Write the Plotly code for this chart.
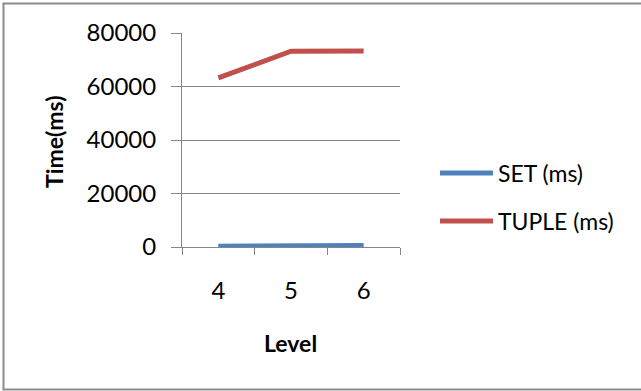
import plotly.graph_objects as go

levels = ["4", "5", "6"]
set_ms = [250, 400, 600]
tuple_ms = [63200, 73200, 73300]
y_ticks = [0, 20000, 40000, 60000, 80000]

series = [
    ("SET (ms)", set_ms, "#4F81BD"),
    ("TUPLE (ms)", tuple_ms, "#C0504D"),
]

FONT = "Lato, 'Open Sans', sans-serif"
GRID = "#868686"

fig = go.Figure()
for name, vals, color in series:
    fig.add_trace(go.Scatter(x=levels, y=vals, mode="lines", name=name,
                             line=dict(color=color, width=5)))

# plot area: x 182..400 px, y 33..247 px
L, R, T, B = 182, 400, 33, 247
W, H = 641, 391

def px_x(p):
    return (p - L) / (R - L)

def px_y(p):
    return (B - p) / (B - T)

fig.update_layout(
    width=W, height=H,
    margin=dict(l=L, r=W - R, t=T, b=H - B),
    paper_bgcolor="white", plot_bgcolor="white",
    font=dict(family=FONT, size=24, color="#000000"),
    showlegend=False,
    xaxis=dict(
        type="category", tickson="boundaries", ticks="outside", ticklen=7,
        tickcolor=GRID, showline=True, linecolor=GRID, linewidth=1,
        showgrid=False, tickfont=dict(size=24), ticklabelstandoff=22,
        range=[-0.5, 2.5],
    ),
    yaxis=dict(
        range=[0, 80000], tickvals=y_ticks, ticktext=[str(v) for v in y_ticks],
        ticks="outside", ticklen=10, tickcolor=GRID,
        showline=True, linecolor=GRID, linewidth=1,
        showgrid=True, gridcolor=GRID, gridwidth=1, zeroline=False,
        tickfont=dict(size=24), ticklabelstandoff=10,
    ),
)

# axis titles
fig.add_annotation(text="<b>Time(ms)</b>", xref="paper", yref="paper",
                   x=px_x(54), y=px_y(142), textangle=-90, showarrow=False,
                   font=dict(size=23), xanchor="center", yanchor="middle")
fig.add_annotation(text="<b>Level</b>", xref="paper", yref="paper",
                   x=px_x(290), y=px_y(343), showarrow=False,
                   font=dict(size=23), xanchor="center", yanchor="middle")

# legend entries
for i, (name, vals, color) in enumerate(series):
    yy = px_y(173 + 48 * i)
    fig.add_shape(type="line", xref="paper", yref="paper",
                  x0=px_x(440), x1=px_x(493), y0=yy, y1=yy,
                  line=dict(color=color, width=5))
    fig.add_annotation(text=name, xref="paper", yref="paper",
                       x=px_x(496), y=yy, showarrow=False,
                       font=dict(size=23), xanchor="left", yanchor="middle")

# chart frame: left, top and bottom edges only
frame = dict(type="line", xref="paper", yref="paper",
             line=dict(color="#8C8C8C", width=2))
fig.add_shape(x0=px_x(3.5), x1=px_x(3.5), y0=px_y(3.5), y1=px_y(389.5), **frame)
fig.add_shape(x0=px_x(2.5), x1=px_x(641), y0=px_y(3.5), y1=px_y(3.5), **frame)
fig.add_shape(x0=px_x(2.5), x1=px_x(641), y0=px_y(389.5), y1=px_y(389.5), **frame)

fig.write_html("out.html")
